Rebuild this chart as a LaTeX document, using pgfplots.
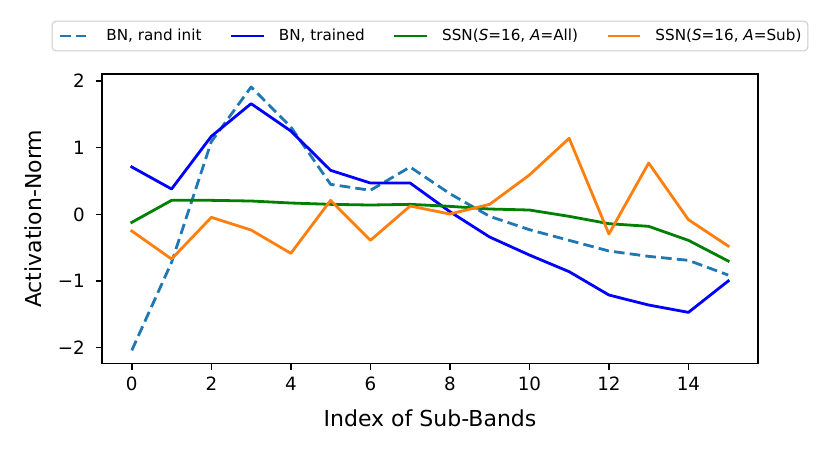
\documentclass[border=0pt]{standalone}
\usepackage{fontspec}
\setmainfont{DejaVu Sans}
\usepackage{pgfplots}
\pgfplotsset{compat=1.18}
\definecolor{tabblue}{HTML}{1F77B4}
\definecolor{mplblue}{HTML}{0000FF}
\definecolor{mplgreen}{HTML}{008000}
\definecolor{taborange}{HTML}{FF7F0E}
\definecolor{legframe}{HTML}{CCCCCC}
\begin{document}
\begin{tikzpicture}
\useasboundingbox (-51pt,-45.75pt) rectangle (364pt,181.75pt);
\begin{axis}[
  scale only axis,
  width=328pt, height=144.75pt,
  xmin=-0.75, xmax=15.75,
  ymin=-2.237, ymax=2.105,
  every axis/.append style={line width=0.73pt},
  tick pos=left,
  tick align=outside,
  major tick length=3.2pt,
  tick style={line width=0.73pt, black},
  /pgf/number format/assume math mode=true,
  xtick={0,2,4,6,8,10,12,14},
  xticklabels={0,2,4,6,8,10,12,14},
  ytick={-2,-1,0,1,2},
  yticklabels={−2,−1,0,1,2},
  ticklabel style={font=\fontsize{9.15}{11}\selectfont},
  yticklabel style={anchor=east, inner xsep=0pt, xshift=-5pt},
  xlabel={Index of Sub-Bands},
  ylabel={Activation-Norm},
  every axis x label/.style={at={(axis description cs:0.5,0)}, yshift=-31.6pt, anchor=base, font=\fontsize{11}{13}\selectfont},
  every axis y label/.style={at={(axis description cs:0,0.5)}, xshift=-30pt, rotate=90, anchor=base, font=\fontsize{11}{13}\selectfont},
  legend columns=4,
  legend cell align=left,
  legend image code/.code={\draw[#1, line width=1.4pt] (0pt,0pt) -- (15pt,0pt);},
  legend style={at={(0.5,1.078)}, anchor=south,
    draw=legframe, line width=0.5pt, rounded corners=2pt,
    font=\fontsize{7.6}{9.1}\selectfont,
    inner xsep=3.2pt, inner ysep=2.8pt,
    nodes={inner xsep=0pt, inner ysep=1pt},
    /tikz/every odd column/.append style={column sep=7.5pt},
    /tikz/every even column/.append style={column sep=14.8pt}},
]
\addplot[tabblue, line width=1.4pt, dash pattern=on 5.3pt off 2.6pt, line join=round] coordinates {
(0,-2.04) (1,-0.72) (2,1.09) (3,1.91) (4,1.31) (5,0.45) (6,0.36) (7,0.71)
(8,0.31) (9,-0.03) (10,-0.23) (11,-0.39) (12,-0.55) (13,-0.63) (14,-0.69) (15,-0.91)};
\addlegendentry{BN, rand init}
\addplot[mplblue, line width=1.4pt, line join=round, line cap=rect] coordinates {
(0,0.71) (1,0.38) (2,1.17) (3,1.66) (4,1.25) (5,0.66) (6,0.47) (7,0.47)
(8,0.04) (9,-0.34) (10,-0.61) (11,-0.86) (12,-1.21) (13,-1.36) (14,-1.47) (15,-1.00)};
\addlegendentry{BN, trained}
\addplot[mplgreen, line width=1.4pt, line join=round, line cap=rect] coordinates {
(0,-0.12) (1,0.21) (2,0.21) (3,0.20) (4,0.17) (5,0.15) (6,0.14) (7,0.15)
(8,0.12) (9,0.08) (10,0.065) (11,-0.03) (12,-0.14) (13,-0.18) (14,-0.39) (15,-0.70)};
\addlegendentry{SSN(\textit{S}=16, \textit{A}=All)}
\addplot[taborange, line width=1.4pt, line join=round, line cap=rect] coordinates {
(0,-0.25) (1,-0.67) (2,-0.045) (3,-0.235) (4,-0.585) (5,0.21) (6,-0.39) (7,0.125)
(8,0.005) (9,0.15) (10,0.59) (11,1.14) (12,-0.295) (13,0.77) (14,-0.08) (15,-0.475)};
\addlegendentry{SSN(\textit{S}=16, \textit{A}=Sub)}
\end{axis}
\end{tikzpicture}
\end{document}
